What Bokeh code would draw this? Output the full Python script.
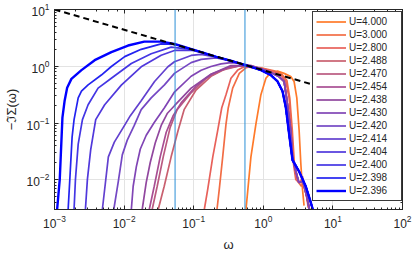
from bokeh.plotting import figure
from bokeh.models import LogAxis, Legend, LegendItem, Span
from bokeh.embed import file_html
from bokeh.resources import INLINE

# ---------------- data ----------------
U_labels = ["U=4.000", "U=3.000", "U=2.800", "U=2.488", "U=2.470", "U=2.454", "U=2.438",
            "U=2.430", "U=2.420", "U=2.414", "U=2.404", "U=2.400", "U=2.398", "U=2.396"]
colors = ["#FF7A2A", "#F26D45", "#E8615A", "#C9606F", "#BA5A80", "#A84E93", "#91479F",
          "#8045B5", "#7448C4", "#6240CF", "#5038DC", "#4436E4", "#2323F0", "#0000FF"]

w_U4000 = [0.564, 0.664, 0.783, 0.924, 1.09, 1.285, 1.60, 1.99, 2.48, 2.77, 3.03, 3.27, 3.46, 3.66, 3.85]
s_U4000 = [0.003, 0.0254, 0.0957, 0.316, 0.615, 0.781, 0.823, 0.75, 0.658, 0.539, 0.277, 0.0745, 0.0194, 0.0068, 0.0035]

w_U3000 = [0.216, 0.233, 0.261, 0.291, 0.314, 0.363, 0.452, 0.564, 0.664, 0.924, 1.43, 1.85, 2.18, 2.40,
           2.61, 2.79, 3.03, 3.52, 3.82, 4.07, 4.43]
s_U3000 = [0.003, 0.0068, 0.0254, 0.0957, 0.186, 0.413, 0.75, 0.942, 0.98, 0.935, 0.83, 0.72, 0.568, 0.277,
           0.0745, 0.02, 0.0099, 0.0077, 0.0094, 0.0063, 0.0032]

w_U2800 = [0.142, 0.159, 0.188, 0.221, 0.253, 0.291, 0.343, 0.429, 0.532, 0.924, 1.43, 1.79, 2.11, 2.35,
           2.54, 2.71, 2.93, 3.38, 3.66, 3.85, 4.31, 4.55]
s_U2800 = [0.003, 0.0068, 0.0254, 0.0736, 0.186, 0.316, 0.615, 0.856, 0.98, 0.916, 0.803, 0.701, 0.54, 0.277,
           0.0736, 0.0194, 0.0101, 0.0088, 0.0115, 0.0077, 0.0045, 0.0031]

w_U2488 = [0.0309, 0.0377, 0.0474, 0.0598, 0.0728, 0.108, 0.177, 0.291, 0.564, 0.924, 1.285, 1.65, 1.99,
           2.16, 2.48, 2.63, 2.86, 3.24, 3.7, 4.2, 4.6]
s_U2488 = [0.003, 0.0077, 0.0254, 0.0745, 0.172, 0.381, 0.667, 0.916, 1.07, 0.90, 0.78, 0.67, 0.54,
           0.277, 0.0745, 0.0254, 0.0158, 0.009, 0.0094, 0.0052, 0.003]

w_U2470 = [0.0253, 0.0299, 0.0365, 0.0459, 0.0578, 0.0918, 0.151, 0.247, 0.478, 0.924, 1.285, 1.65, 1.99,
           2.16, 2.48, 2.63, 2.86, 3.24, 3.7, 4.2, 4.6]
s_U2470 = [0.003, 0.0077, 0.0254, 0.084, 0.172, 0.341, 0.615, 0.846, 1.03, 0.90, 0.78, 0.67, 0.54,
           0.277, 0.0745, 0.0254, 0.0158, 0.009, 0.0094, 0.0052, 0.003]

w_U2454 = [0.0230, 0.0271, 0.0330, 0.0403, 0.0507, 0.0660, 0.108, 0.177, 0.343, 0.664, 0.924, 1.285, 1.65,
           1.99, 2.16, 2.48, 2.63, 2.86, 3.24, 3.7, 4.2, 4.6]
s_U2454 = [0.003, 0.0077, 0.0254, 0.0688, 0.135, 0.227, 0.448, 0.722, 0.99, 1.03, 0.90, 0.78, 0.67,
           0.54, 0.277, 0.0745, 0.0254, 0.0158, 0.009, 0.0094, 0.0052, 0.003]

w_U2438 = [0.0182, 0.0208, 0.0237, 0.028, 0.0341, 0.0416, 0.0529, 0.0918, 0.177, 0.343, 0.664, 0.924, 1.285,
           1.65, 1.99, 2.16, 2.48, 2.63, 2.86, 3.24, 3.7, 4.2, 4.6]
s_U2438 = [0.003, 0.009, 0.020, 0.0444, 0.0908, 0.147, 0.202, 0.413, 0.722, 1.03, 1.03, 0.90, 0.78,
           0.67, 0.54, 0.277, 0.0745, 0.0254, 0.0158, 0.009, 0.0094, 0.0052, 0.003]

w_U2430 = [0.0127, 0.0135, 0.0150, 0.0171, 0.0208, 0.0271, 0.0380, 0.0529, 0.0918, 0.128, 0.177, 0.247,
           0.343, 0.478, 0.664, 0.924, 1.285, 1.65, 1.99, 2.16, 2.48, 2.63, 2.86, 3.24, 3.7, 4.2, 4.6]
s_U2430 = [0.003, 0.0077, 0.0171, 0.0349, 0.061, 0.102, 0.186, 0.352, 0.667, 0.85, 0.99, 1.10,
           1.16, 1.12, 0.99, 0.90, 0.78, 0.67, 0.54, 0.277, 0.0745, 0.0254, 0.0158, 0.009, 0.0094, 0.0052, 0.003]

w_U2420 = [0.00711, 0.00826, 0.00942, 0.0111, 0.0140, 0.0176, 0.0245, 0.0380, 0.0529, 0.0918, 0.128, 0.177,
           0.212, 0.383, 0.664, 0.924, 1.285, 1.60, 1.89, 2.11, 2.35, 2.63, 3.27, 4.07, 4.81, 5.14]
s_U2420 = [0.003, 0.0094, 0.0275, 0.050, 0.0908, 0.172, 0.277, 0.471, 0.750, 1.16, 1.32, 1.38,
           1.40, 1.20, 0.98, 0.856, 0.70, 0.54, 0.362, 0.186, 0.064, 0.0223, 0.014, 0.0077, 0.004, 0.003]

w_U2414 = [0.00487, 0.00538, 0.00594, 0.00724, 0.00975, 0.0123, 0.0176, 0.0274, 0.0426, 0.0529, 0.0918,
           0.128, 0.212, 0.383, 0.664, 0.924, 1.285, 1.60, 1.89, 2.11, 2.35, 2.63, 3.27, 4.07, 4.81, 5.14]
s_U2414 = [0.003, 0.0087, 0.0254, 0.0462, 0.084, 0.135, 0.246, 0.540, 0.980, 1.20, 1.55,
           1.62, 1.45, 1.20, 0.98, 0.856, 0.70, 0.54, 0.362, 0.186, 0.064, 0.0223, 0.014, 0.0077, 0.004, 0.003]

w_U2404 = [0.00278, 0.00297, 0.00331, 0.00391, 0.00526, 0.00912, 0.0176, 0.0341, 0.0529, 0.0918, 0.128,
           0.212, 0.383, 0.664, 0.924, 1.285, 1.60, 1.89, 2.11, 2.35, 2.63, 3.27, 4.07, 4.81, 5.14]
s_U2404 = [0.003, 0.0102, 0.0336, 0.115, 0.210, 0.466, 0.980, 1.56, 1.90, 1.92, 1.76,
           1.46, 1.20, 0.98, 0.856, 0.70, 0.54, 0.362, 0.186, 0.064, 0.0223, 0.014, 0.0077, 0.004, 0.003]

w_U2400 = [0.00191, 0.00200, 0.00219, 0.00252, 0.00304, 0.00423, 0.00656, 0.0127, 0.0245, 0.0474, 0.0918,
           0.128, 0.212, 0.383, 0.664, 0.924, 1.285, 1.60, 1.89, 2.11, 2.35, 2.63, 3.27, 4.07, 4.81, 5.14]
s_U2400 = [0.003, 0.0102, 0.0426, 0.115, 0.210, 0.413, 0.615, 1.12, 1.66, 2.17, 1.98,
           1.78, 1.46, 1.20, 0.98, 0.856, 0.70, 0.54, 0.362, 0.186, 0.064, 0.0223, 0.014, 0.0077, 0.004, 0.003]

w_U2398 = [0.00157, 0.00166, 0.00179, 0.00191, 0.00219, 0.00244, 0.00304, 0.00471, 0.00656, 0.0102, 0.0176,
           0.0341, 0.0529, 0.0918, 0.128, 0.212, 0.383, 0.664, 0.924, 1.285, 1.60, 1.89, 2.11, 2.35, 2.63,
           3.27, 4.07, 4.81, 5.14]
s_U2398 = [0.003, 0.0102, 0.0564, 0.115, 0.277, 0.366, 0.471, 0.701, 0.99, 1.48, 1.99,
           2.48, 2.43, 2.0, 1.78, 1.46, 1.20, 0.98, 0.856, 0.70, 0.54, 0.362, 0.186, 0.064, 0.0223,
           0.014, 0.0077, 0.004, 0.003]

w_U2396 = [0.00109, 0.00119, 0.00130, 0.00140, 0.00152, 0.00175, 0.00244, 0.00378, 0.00656, 0.0114, 0.0195,
           0.0341, 0.0529, 0.128, 0.212, 0.383, 0.664, 0.924, 1.285, 1.60, 1.89, 2.11, 2.35, 2.63, 3.27,
           4.07, 4.81, 5.14]
s_U2396 = [0.003, 0.0102, 0.125, 0.25, 0.42, 0.60, 0.856, 1.28, 1.78, 2.32, 2.72,
           2.72, 2.48, 1.78, 1.46, 1.20, 0.98, 0.856, 0.70, 0.54, 0.362, 0.186, 0.064, 0.0223, 0.014,
           0.0077, 0.004, 0.003]

omegas = [w_U4000, w_U3000, w_U2800, w_U2488, w_U2470, w_U2454, w_U2438,
          w_U2430, w_U2420, w_U2414, w_U2404, w_U2400, w_U2398, w_U2396]
sigmas = [s_U4000, s_U3000, s_U2800, s_U2488, s_U2470, s_U2454, s_U2438,
          s_U2430, s_U2420, s_U2414, s_U2404, s_U2400, s_U2398, s_U2396]

dash_w = [1e-3, 1e2]
dash_s = [10.0, 0.165]

vlines = [0.054, 0.545]

# ---------------- figure ----------------
FONT = "Liberation Sans"
AX = "#262626"

p = figure(width=412, height=254, x_axis_type="log", y_axis_type="log",
           x_range=(1e-3, 1e2), y_range=(0.003, 10),
           output_backend="svg", toolbar_location=None,
           min_border_left=53, min_border_right=10, min_border_top=9, min_border_bottom=40)
p.background_fill_color = "white"
p.border_fill_color = "white"
p.outline_line_color = AX
p.outline_line_width = 1

for ax in (p.xaxis[0], p.yaxis[0]):
    ax.major_tick_in = 4
    ax.major_tick_out = 0
    ax.minor_tick_in = 2
    ax.minor_tick_out = 0
    ax.axis_line_color = AX
    ax.major_tick_line_color = AX
    ax.minor_tick_line_color = AX
    ax.major_label_text_font = FONT
    ax.major_label_text_font_size = "12px"
    ax.major_label_text_color = AX
    ax.axis_label_text_font = FONT
    ax.axis_label_text_font_size = "13px"
    ax.axis_label_text_font_style = "normal"
    ax.axis_label_text_color = AX
    ax.major_label_standoff = 5

p.xaxis.axis_label = "ω"
p.yaxis.axis_label = "−ℑΣ(ω)"
p.xaxis.axis_label_standoff = 6
p.yaxis.axis_label_standoff = 5

for side in ("right", "above"):
    a = LogAxis(major_tick_in=4, major_tick_out=0,
                minor_tick_in=2, minor_tick_out=0, major_label_standoff=0,
                major_label_text_font_size="1px", major_label_text_alpha=0,
                axis_line_color=AX, major_tick_line_color=AX, minor_tick_line_color=AX)
    p.add_layout(a, side)

p.xgrid.grid_line_color = "#e3e3e3"
p.ygrid.grid_line_color = "#e3e3e3"
p.xgrid.minor_grid_line_color = None
p.ygrid.minor_grid_line_color = None

items = []
for lab, col, w, s in zip(U_labels, colors, omegas, sigmas):
    lw = 2.4 if lab == "U=2.396" else 1.7
    r = p.line(w, s, line_color=col, line_width=lw)
    items.append(LegendItem(label=lab, renderers=[r]))

p.line(dash_w, dash_s, line_color="black", line_width=2, line_dash="6 4")

for xv in vlines:
    p.add_layout(Span(location=xv, dimension="height", line_color="#2B8FD6", line_width=1))

legend = Legend(items=items, location=(258, 8), margin=0, padding=3, spacing=0,
                glyph_width=30, glyph_height=13, label_height=13, label_width=49,
                label_standoff=3, label_text_font=FONT, label_text_font_size="10px",
                label_text_color=AX, border_line_color="#3a3a3a", border_line_width=1,
                border_line_alpha=1.0,
                background_fill_color="white", background_fill_alpha=1.0)
p.add_layout(legend, "center")

open("out.html", "w").write(file_html(p, INLINE))
